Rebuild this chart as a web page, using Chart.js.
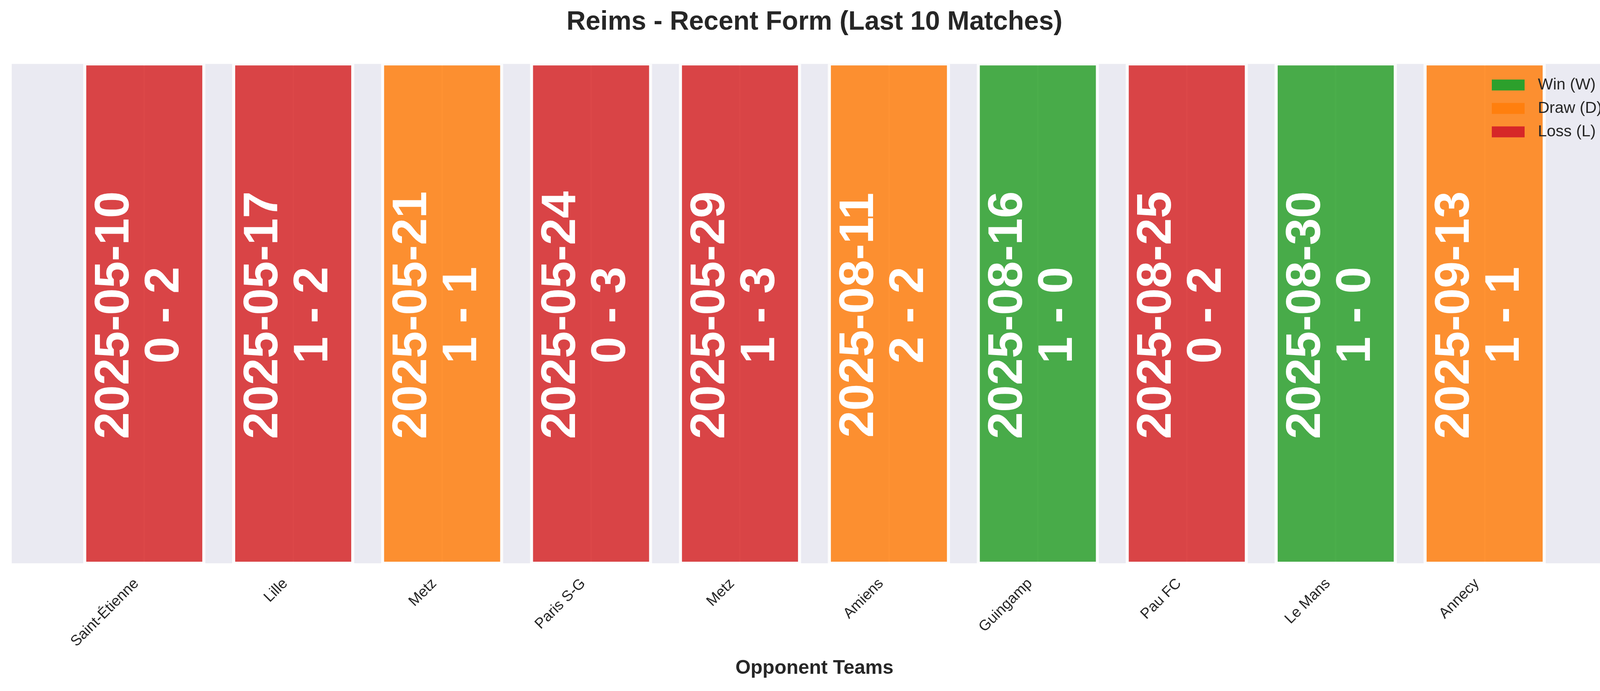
<!DOCTYPE html>
<html>
<head>
<meta charset="utf-8">
<title>Reims - Recent Form</title>
<script src="https://cdn.jsdelivr.net/npm/chart.js@4.4.1/dist/chart.umd.min.js"></script>
<style>
  html, body { margin: 0; padding: 0; background: #ffffff; overflow: hidden; }
  canvas { display: block; }
</style>
</head>
<body>
<canvas id="formChart" width="4170" height="1769" style="width:4170px;height:1769px"></canvas>
<script>
// last 10 matches, oldest first
const teams = ['Saint-Étienne', 'Lille', 'Metz', 'Paris S-G', 'Metz', 'Amiens', 'Guingamp', 'Pau FC', 'Le Mans', 'Annecy'];
const dates = ['2025-05-10', '2025-05-17', '2025-05-21', '2025-05-24', '2025-05-29', '2025-08-11', '2025-08-16', '2025-08-25', '2025-08-30', '2025-09-13'];
const scores = ['0 - 2', '1 - 2', '1 - 1', '0 - 3', '1 - 3', '2 - 2', '1 - 0', '0 - 2', '1 - 0', '1 - 1'];
const results = ['L', 'L', 'D', 'L', 'L', 'D', 'W', 'L', 'W', 'D'];
const barValues = [1, 1, 1, 1, 1, 1, 1, 1, 1, 1];

const legendKeys = ['W', 'D', 'L'];
const legendNames = ['Win (W)', 'Draw (D)', 'Loss (L)'];

const resultColors = { W: '#2ca02c', D: '#ff7f0e', L: '#d62728' };
const resultFill = { W: 'rgba(44, 160, 44, 0.85)', D: 'rgba(255, 127, 14, 0.85)', L: 'rgba(214, 39, 40, 0.85)' };

const FONT = '"Liberation Sans", Arial, Helvetica, sans-serif';
const TEXT = '#262626';

// grey plot background (seaborn darkgrid look)
const plotBackground = {
    id: 'plotBackground',
    beforeDraw(chart) {
        const { ctx, chartArea: a } = chart;
        ctx.save();
        ctx.fillStyle = '#eaeaf2';
        ctx.fillRect(a.left, a.top, a.right - a.left, a.bottom - a.top);
        ctx.restore();
    }
};

// date + score written sideways inside each bar
const barLabels = {
    id: 'barLabels',
    afterDatasetsDraw(chart) {
        const { ctx } = chart;
        const meta = chart.getDatasetMeta(0);
        const yMid = chart.scales.y.getPixelForValue(0.5) + 4;
        ctx.save();
        ctx.fillStyle = '#ffffff';
        ctx.font = 'bold 124px ' + FONT;
        ctx.textAlign = 'center';
        ctx.textBaseline = 'middle';
        meta.data.forEach((bar, i) => {
            ctx.save();
            ctx.translate(bar.x, yMid);
            ctx.rotate(-Math.PI / 2);
            ctx.fillText(dates[i], 0, -75);
            ctx.fillText(scores[i], 0, 53);
            ctx.restore();
        });
        ctx.restore();
    }
};

// legend in the upper right corner of the plot
const cornerLegend = {
    id: 'cornerLegend',
    afterDraw(chart) {
        const { ctx, chartArea: a } = chart;
        const boxX = a.right - 321;
        const textX = a.right - 203;
        ctx.save();
        ctx.font = '41px ' + FONT;
        ctx.textBaseline = 'middle';
        ctx.textAlign = 'left';
        legendKeys.forEach((k, i) => {
            const cy = a.top + 54 + i * 60;
            ctx.fillStyle = resultColors[k];
            ctx.fillRect(boxX, cy - 14, 84, 28);
            ctx.fillStyle = TEXT;
            ctx.fillText(legendNames[i], textX, cy);
        });
        ctx.restore();
    }
};

const ctx = document.getElementById('formChart').getContext('2d');
const formChart = new Chart(ctx, {
    type: 'bar',
    data: {
        datasets: [{
            label: 'Form',
            data: barValues.map((v, i) => ({ x: i, y: v })),
            backgroundColor: results.map(r => resultFill[r]),
            borderColor: 'rgba(255, 255, 255, 0.85)',
            borderWidth: { left: 8, right: 8, top: 4, bottom: 4 },
            borderSkipped: false,
            barPercentage: 0.821,
            categoryPercentage: 1.0
        }]
    },
    options: {
        responsive: false,
        maintainAspectRatio: false,
        animation: false,
        devicePixelRatio: 1,
        layout: { padding: { left: 30, right: 30, top: 0, bottom: 0 } },
        plugins: {
            legend: { display: false },
            tooltip: { enabled: false },
            title: {
                display: true,
                text: 'Reims - Recent Form (Last 10 Matches)',
                color: TEXT,
                font: { family: FONT, size: 68, weight: 'bold' },
                padding: { top: 16, bottom: 66 }
            }
        },
        scales: {
            x: {
                type: 'linear',
                offset: false,
                min: -0.89,
                max: 9.89,
                afterBuildTicks(scale) {
                    scale.ticks = teams.map((t, i) => ({ value: i }));
                },
                afterFit(scale) {
                    scale.height = 327;
                },
                ticks: {
                    autoSkip: false,
                    minRotation: 45,
                    maxRotation: 45,
                    padding: 30,
                    labelOffset: -20,
                    color: TEXT,
                    font: { family: FONT, size: 38 },
                    callback: (value, index) => teams[index]
                },
                grid: {
                    offset: false,
                    color: '#ffffff',
                    lineWidth: 4,
                    drawTicks: false
                },
                border: { display: false },
                title: {
                    display: true,
                    text: 'Opponent Teams',
                    color: TEXT,
                    font: { family: FONT, size: 50, weight: 'bold' },
                    padding: { top: 0, bottom: 28 }
                }
            },
            y: {
                display: false,
                min: 0,
                max: 1
            }
        }
    },
    plugins: [plotBackground, barLabels, cornerLegend]
});
</script>
</body>
</html>
